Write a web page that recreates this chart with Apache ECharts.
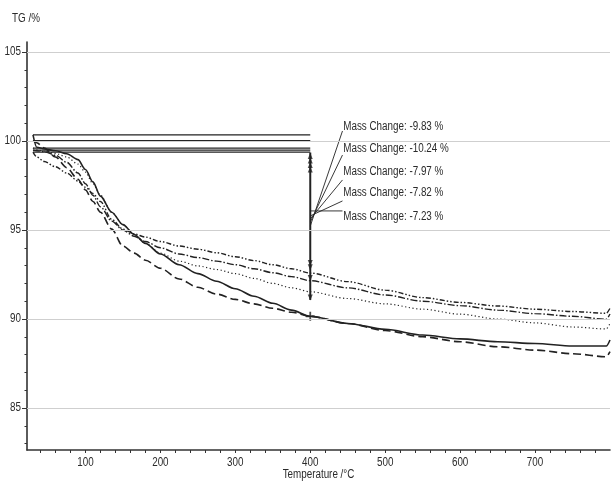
<!DOCTYPE html>
<html>
<head>
<meta charset="utf-8">
<script src="https://cdn.jsdelivr.net/npm/echarts@6.0.0/dist/echarts.min.js"></script>
<style>
  html, body { margin: 0; background: #fff; }
  #chart { width: 611px; height: 481px; }
</style>
</head>
<body>
<div id="chart"></div>
<script>
// temperature (°C) and TG (%)
const temps = [30, 35, 45, 60, 75, 90, 100, 110, 120, 135, 150, 165, 180, 200, 225, 250, 275, 300, 325, 350, 375, 400, 450, 500, 550, 600, 650, 700, 750, 795, 800];
const tgSolid = [100.34, 99.65, 99.55, 99.45, 99.28, 98.95, 98.4, 97.7, 96.9, 96.0, 95.3, 94.75, 94.25, 93.65, 93.05, 92.55, 92.12, 91.7, 91.28, 90.88, 90.5, 90.15, 89.75, 89.42, 89.1, 88.88, 88.72, 88.62, 88.48, 88.48, 88.82];
const tgDashed = [100.02, 99.9, 99.6, 99.1, 98.5, 97.85, 97.25, 96.6, 96.0, 95.05, 94.1, 93.7, 93.3, 92.85, 92.25, 91.78, 91.4, 91.1, 90.85, 90.6, 90.38, 90.15, 89.75, 89.35, 89.0, 88.72, 88.44, 88.25, 88.05, 87.88, 88.16];
const tgDotted = [99.6, 99.5, 99.42, 99.3, 99.1, 98.7, 98.25, 97.6, 96.95, 96.0, 95.3, 94.75, 94.25, 93.7, 93.25, 92.98, 92.78, 92.55, 92.28, 92.0, 91.75, 91.53, 91.15, 90.85, 90.55, 90.27, 90.0, 89.78, 89.55, 89.44, 89.75];
const tgDashDot = [99.49, 99.45, 99.4, 99.2, 98.8, 98.2, 97.6, 96.95, 96.3, 95.5, 95.0, 94.65, 94.35, 94.0, 93.65, 93.45, 93.25, 93.05, 92.82, 92.6, 92.38, 92.15, 91.75, 91.35, 91.0, 90.75, 90.5, 90.3, 90.15, 89.99, 90.28];
const tgDashDotDot = [99.37, 99.1, 98.85, 98.55, 98.2, 97.75, 97.4, 97.05, 96.6, 95.6, 95.05, 94.78, 94.6, 94.35, 94.1, 93.92, 93.72, 93.5, 93.28, 93.05, 92.82, 92.58, 92.1, 91.62, 91.2, 90.93, 90.73, 90.55, 90.42, 90.32, 90.6];

// mass change evaluation at 400 °C
const baseT = [30, 400];
const baselines = [100.34, 100.02, 99.6, 99.49, 99.37];
const arrowT = 400;
const arrowSpan = [99.35, 91.07];
const arrowUp = [99.15, 98.9, 98.65, 98.4];
const arrowDown = [93.15, 92.9, 92.3, 91.2];
const crossAt = 90.15;
const massChanges = ['-9.83', '-10.24', '-7.97', '-7.82', '-7.23'];
const labelT = 444;
const labelTG = [100.81, 99.55, 98.28, 97.08, 95.75];
const leaderStart = [100.56, 99.21, 97.81, 96.63, 96.07];
const leaderEnd = [95.22, 95.45, 95.62, 95.79, 96.07];

// axes
const xMin = 22, xMax = 800, yMin = 82.64, yMax = 105.56;
const xLabels = [100, 200, 300, 400, 500, 600, 700];
const xTicks = [];
for (let t = 40; t <= 780; t += 20) xTicks.push(t);
const yLabels = [85, 90, 95, 100, 105];
const yTicks = [];
for (let v = 83; v <= 105; v++) yTicks.push(v);

// no narrow font installed: squeeze Liberation Sans horizontally
const FONT = '12px "Liberation Sans", Arial, sans-serif';
const NARROW = 0.82;
const INK = '#222';
const TXT = '#2b2b2b';

const curves = [
  { name: 'solid', data: tgSolid, type: 'solid', width: 1.6 },
  { name: 'dashed', data: tgDashed, type: [8, 4], width: 1.6 },
  { name: 'dotted', data: tgDotted, type: [1.2, 2.5], width: 1.2 },
  { name: 'dashdot', data: tgDashDot, type: [7, 2, 1.5, 2], width: 1.4 },
  { name: 'dashdotdot', data: tgDashDotDot, type: [5, 2, 1.5, 2, 1.5, 2], width: 1.4 },
];

const chart = echarts.init(document.getElementById('chart'), null, { renderer: 'canvas' });

const series = [];

// grid lines + arrow shaft
series.push({
  type: 'line', z: 1, silent: true, symbol: 'none',
  data: [[arrowT, arrowSpan[0]], [arrowT, arrowSpan[1]]],
  lineStyle: { color: INK, width: 2 },
  markLine: {
    silent: true, symbol: 'none', label: { show: false },
    lineStyle: { color: '#cfcfcf', type: 'solid', width: 1.2 },
    data: yLabels.map(v => ({ yAxis: v })),
  },
});

curves.forEach(c => {
  series.push({
    type: 'line', name: c.name, z: 3, silent: true, showSymbol: false,
    smooth: 0.3, smoothMonotone: 'x',
    data: temps.map((t, i) => [t, c.data[i]]),
    lineStyle: { color: INK, width: c.width, type: c.type },
  });
});

baselines.forEach(b => {
  series.push({
    type: 'line', z: 2, silent: true, symbol: 'none',
    data: baseT.map(t => [t, b]),
    lineStyle: { color: INK, width: 1.3 },
  });
});

leaderStart.forEach((s, i) => {
  series.push({
    type: 'line', z: 2, silent: true, symbol: 'none',
    data: [[labelT - 1, s], [arrowT, leaderEnd[i]]],
    lineStyle: { color: INK, width: 0.9 },
  });
});

series.push({
  type: 'scatter', z: 4, silent: true, symbol: 'triangle', symbolSize: [5, 6],
  data: arrowUp.map(v => [arrowT, v]),
  itemStyle: { color: INK },
});
series.push({
  type: 'scatter', z: 4, silent: true, symbol: 'triangle', symbolSize: [5, 6], symbolRotate: 180,
  data: arrowDown.map(v => [arrowT, v]),
  itemStyle: { color: INK },
});
series.push({
  type: 'scatter', z: 4, silent: true, symbol: 'path://M4,0H6V10H4ZM0,4H10V6H0Z', symbolSize: 9,
  data: [[arrowT, crossAt]],
  itemStyle: { color: INK },
});

const yBase = { type: 'value', min: yMin, max: yMax, position: 'left', splitLine: { show: false } };

chart.setOption({
  animation: false,
  backgroundColor: '#fff',
  grid: { left: 27, right: 1, top: 42, bottom: 31, containLabel: false, outerBoundsMode: 'none' },
  xAxis: {
    type: 'value', min: xMin, max: xMax,
    axisLine: { show: true, onZero: false, lineStyle: { color: '#333', width: 1.6 } },
    axisTick: { show: true, customValues: xTicks, length: 3, lineStyle: { color: '#333' } },
    axisLabel: { show: false },
    splitLine: { show: false },
  },
  yAxis: [
    Object.assign({}, yBase, {
      axisLine: { show: true, onZero: false, lineStyle: { color: '#333', width: 1.6 } },
      axisTick: { show: true, customValues: yTicks, length: 2.5, lineStyle: { color: '#333' } },
      axisLabel: { show: false },
    }),
    Object.assign({}, yBase, {
      axisLine: { show: false },
      axisTick: { show: true, customValues: yLabels, length: 5, lineStyle: { color: '#333' } },
      axisLabel: { show: false },
    }),
  ],
  series: series,
});

// texts, placed through the axes' own scales
const px = (t, v) => chart.convertToPixel({ seriesIndex: 1 }, [t, v]);
const txt = (text, x, y, align) => ({
  type: 'text', x: x, y: y, scaleX: NARROW, silent: true,
  style: { text: text, font: FONT, fill: TXT, align: align, verticalAlign: 'middle' },
});
const origin = px(xMin, yMin);
const graphics = [];
graphics.push(txt('TG /%', 12, 19, 'left'));
graphics.push(txt('Temperature /°C', px((xMin + xMax) / 2, yMin)[0], origin[1] + 25, 'center'));
xLabels.forEach(t => graphics.push(txt(String(t), px(t, yMin)[0], origin[1] + 13, 'center')));
yLabels.forEach(v => graphics.push(txt(String(v), origin[0] - 6, px(xMin, v)[1], 'right')));
labelTG.forEach((v, i) => {
  const p = px(labelT, v);
  graphics.push(txt('Mass Change: ' + massChanges[i] + ' %', p[0], p[1], 'left'));
});
chart.setOption({ graphic: graphics });
</script>
</body>
</html>
